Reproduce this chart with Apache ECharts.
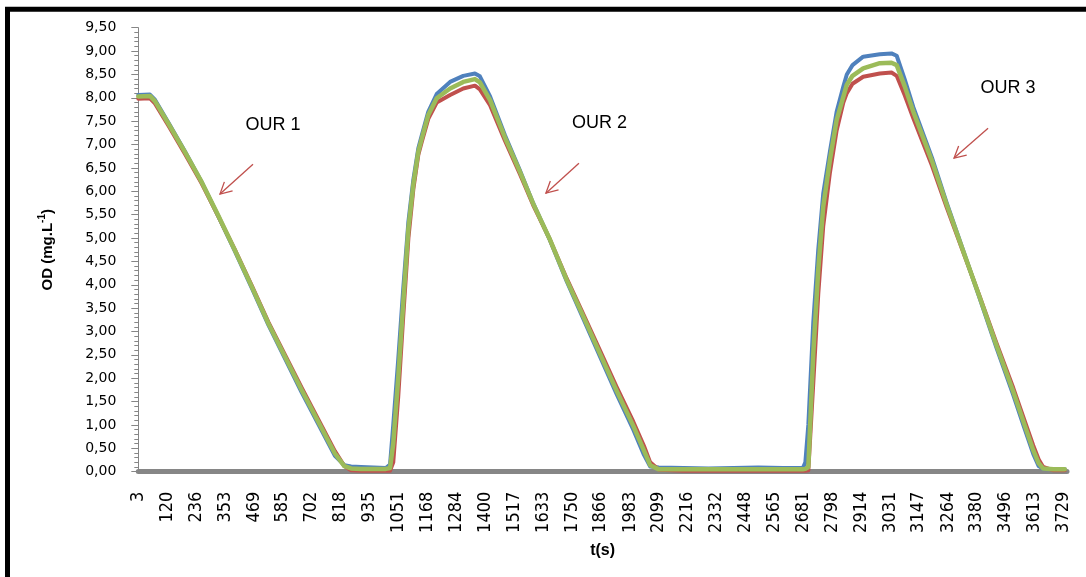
<!DOCTYPE html>
<html>
<head>
<meta charset="utf-8">
<script src="https://cdn.jsdelivr.net/npm/echarts@6/dist/echarts.min.js"></script>
<style>
  html, body { margin: 0; padding: 0; background: #fff; }
  #chart { width: 1086px; height: 577px; }
</style>
</head>
<body>
<div id="chart"></div>
<script>
// Time axis labels (s)
const tickLabels = [3, 120, 236, 353, 469, 585, 702, 818, 935, 1051, 1168, 1284, 1400, 1517, 1633,
  1750, 1866, 1983, 2099, 2216, 2332, 2448, 2565, 2681, 2798, 2914, 3031, 3147, 3264, 3380, 3496, 3613, 3729];

// Sampling instants (s)
const timeS = [3, 50, 70, 124, 190, 258, 325, 392, 460, 527, 594, 661, 728, 795, 833, 860, 900, 950, 1000,
  1017, 1030, 1050, 1070, 1091, 1111, 1131, 1145, 1171, 1205, 1259, 1312, 1359, 1379, 1420, 1480, 1540,
  1594, 1660, 1729, 1795, 1863, 1930, 1997, 2040, 2065, 2100, 2200, 2300, 2400, 2500, 2600, 2680, 2690,
  2702, 2722, 2742, 2762, 2789, 2816, 2843, 2857, 2880, 2923, 2990, 3037, 3058, 3090, 3125, 3200, 3259,
  3330, 3393, 3460, 3527, 3570, 3608, 3630, 3648, 3690, 3735];

// Dissolved oxygen, mg/L
const odSerie1 = [8.06, 8.07, 7.96, 7.47, 6.86, 6.20, 5.47, 4.72, 3.93, 3.14, 2.42, 1.70, 1.02, 0.34, 0.14,
  0.11, 0.10, 0.09, 0.08, 0.15, 1.00, 2.40, 3.90, 5.35, 6.25, 6.92, 7.20, 7.70, 8.08, 8.34, 8.47, 8.52,
  8.46, 8.03, 7.20, 6.45, 5.74, 4.97, 4.07, 3.28, 2.46, 1.66, 0.90, 0.36, 0.11, 0.09, 0.08, 0.07, 0.08,
  0.09, 0.08, 0.08, 0.20, 1.00, 3.20, 4.75, 5.95, 6.85, 7.70, 8.24, 8.50, 8.70, 8.88, 8.93, 8.95, 8.90,
  8.40, 7.80, 6.72, 5.76, 4.67, 3.70, 2.65, 1.65, 0.97, 0.38, 0.12, 0.06, 0.05, 0.05];

const odSerie2 = [7.98, 7.99, 7.88, 7.41, 6.81, 6.17, 5.47, 4.75, 3.98, 3.20, 2.50, 1.80, 1.12, 0.44, 0.12,
  0.03, 0.02, 0.02, 0.02, 0.02, 0.20, 1.60, 3.30, 5.00, 6.05, 6.78, 7.06, 7.55, 7.90, 8.06, 8.20, 8.26,
  8.18, 7.84, 7.08, 6.37, 5.70, 4.98, 4.13, 3.38, 2.59, 1.81, 1.07, 0.55, 0.20, 0.04, 0.02, 0.02, 0.02,
  0.02, 0.02, 0.02, 0.02, 0.03, 1.90, 3.80, 5.25, 6.40, 7.30, 7.90, 8.10, 8.30, 8.45, 8.52, 8.54, 8.47,
  8.06, 7.56, 6.55, 5.66, 4.64, 3.74, 2.75, 1.80, 1.14, 0.56, 0.26, 0.10, 0.03, 0.03];

const odSerie3 = [8.03, 8.04, 7.93, 7.45, 6.85, 6.20, 5.48, 4.74, 3.96, 3.17, 2.46, 1.75, 1.07, 0.39, 0.12,
  0.07, 0.06, 0.06, 0.06, 0.08, 0.60, 2.00, 3.60, 5.20, 6.15, 6.85, 7.13, 7.63, 7.99, 8.20, 8.34, 8.40,
  8.33, 7.95, 7.15, 6.42, 5.73, 4.98, 4.10, 3.33, 2.52, 1.73, 0.98, 0.45, 0.14, 0.05, 0.05, 0.05, 0.05,
  0.05, 0.05, 0.05, 0.06, 0.10, 2.53, 4.32, 5.67, 6.67, 7.52, 8.02, 8.28, 8.47, 8.63, 8.74, 8.75, 8.70,
  8.25, 7.70, 6.65, 5.72, 4.66, 3.72, 2.70, 1.72, 1.05, 0.46, 0.18, 0.07, 0.05, 0.05];

// Phase annotations (in data coordinates: time, OD)
const ourNames = ['OUR 1', 'OUR 2', 'OUR 3'];
const ourTextAt = [[546, 7.42], [1861, 7.45], [3506, 8.20]];
const ourArrows = [
  [[465, 6.58], [332, 5.94]],
  [[1778, 6.60], [1645, 5.96]],
  [[3426, 7.35], [3289, 6.71]]
];

const chart = echarts.init(document.getElementById('chart'), null, { renderer: 'canvas' });
const pairs = s => timeS.map((t, i) => [t, s[i]]);
const gray = '#868686';
const numFont = "'Liberation Sans Narrow', 'DejaVu Sans Condensed', sans-serif";
const textFont = "'Liberation Sans', Arial, sans-serif";

const lineSeries = (name, data, color, width) => ({
  name, type: 'line', data: pairs(data), showSymbol: false, symbol: 'none',
  lineStyle: { color, width, cap: 'round', join: 'round' },
  itemStyle: { color }
});

chart.setOption({
  animation: false,
  backgroundColor: '#ffffff',
  grid: { left: 138.3, right: 19, top: 27.7, bottom: 105.3 },
  xAxis: {
    type: 'value', min: 3, max: 3744, offset: 2,
    name: 't(s)', nameLocation: 'middle', nameGap: 69,
    nameTextStyle: { fontFamily: textFont, fontWeight: 'bold', fontSize: 16, color: '#000' },
    axisLine: { lineStyle: { color: gray, width: 5 } },
    axisTick: { show: false },
    splitLine: { show: false },
    axisLabel: {
      customValues: tickLabels, rotate: 90, margin: 18,
      fontFamily: numFont, fontSize: 18, color: '#000',
      formatter: v => String(v)
    }
  },
  yAxis: {
    type: 'value', min: 0, max: 9.5, interval: 0.5,
    name: '{a|OD (mg.L}{s|-1}{a|)}', nameLocation: 'middle', nameGap: 83,
    nameTextStyle: {
      rich: {
        a: { fontFamily: textFont, fontWeight: 'bold', fontSize: 15, color: '#000', lineHeight: 18, verticalAlign: 'bottom' },
        s: { fontFamily: textFont, fontWeight: 'bold', fontSize: 10, color: '#000', lineHeight: 18, verticalAlign: 'top' }
      }
    },
    axisLine: { show: true, lineStyle: { color: gray, width: 1 } },
    axisTick: { show: true, length: 7, lineStyle: { color: gray } },
    minorTick: { show: true, splitNumber: 5, length: 4, lineStyle: { color: gray } },
    splitLine: { show: false },
    axisLabel: {
      margin: 22, fontFamily: "'DejaVu Sans', sans-serif", fontSize: 14, color: '#000',
      formatter: v => v.toFixed(2).replace('.', ',')
    }
  },
  series: [
    lineSeries('Série1', odSerie1, '#4F81BD', 4),
    lineSeries('Série2', odSerie2, '#C0504D', 4),
    lineSeries('Série3', odSerie3, '#9BBB59', 4.5)
  ]
});

// Frame, phase labels and arrows
const toPx = p => chart.convertToPixel({ gridIndex: 0 }, p);
const elements = [{
  type: 'rect', silent: true, z: 10,
  shape: { x: 7.5, y: 9.2, width: 1100, height: 600 },
  style: { fill: 'none', stroke: '#000', lineWidth: 5 }
}];
const arrowColor = '#C0504D';
ourNames.forEach((label, i) => {
  const c = toPx(ourTextAt[i]);
  elements.push({
    type: 'text', x: c[0], y: c[1], z: 10,
    style: { text: label, font: '18px ' + textFont, fill: '#000', align: 'center', verticalAlign: 'middle' }
  });
  const a = toPx(ourArrows[i][0]);
  const b = toPx(ourArrows[i][1]);
  elements.push({
    type: 'line', z: 10,
    shape: { x1: a[0], y1: a[1], x2: b[0], y2: b[1] },
    style: { stroke: arrowColor, lineWidth: 1.3 }
  });
  const dx = a[0] - b[0], dy = a[1] - b[1];
  const len = Math.hypot(dx, dy);
  const ux = dx / len, uy = dy / len;
  const head = 13, ang = 28 * Math.PI / 180;
  const arm = s => [b[0] + head * (ux * Math.cos(s * ang) - uy * Math.sin(s * ang)),
                    b[1] + head * (ux * Math.sin(s * ang) + uy * Math.cos(s * ang))];
  elements.push({
    type: 'polyline', z: 10,
    shape: { points: [arm(1), b, arm(-1)] },
    style: { stroke: arrowColor, lineWidth: 1.3, fill: null }
  });
});
chart.setOption({ graphic: { elements } });
</script>
</body>
</html>
